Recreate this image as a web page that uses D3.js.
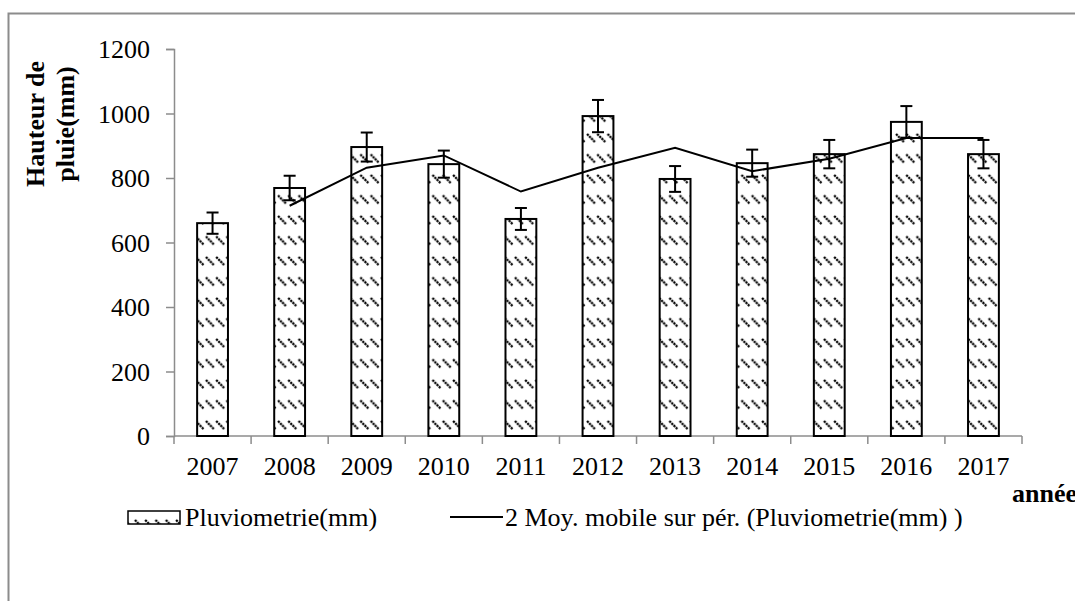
<!DOCTYPE html>
<html>
<head>
<meta charset="utf-8">
<script src="https://cdn.jsdelivr.net/npm/d3@7"></script>
<style>
	body { margin: 0; background: #fff; }
	svg { display: block; }
	svg text { font-family: 'Liberation Serif', 'Times New Roman', serif; }
</style>
</head>
<body>
<div id="chart"><svg width="1075" height="601"></svg></div>
<script>
// data
var years = ['2007', '2008', '2009', '2010', '2011', '2012', '2013', '2014', '2015', '2016', '2017'];
var pluvio = [660, 769, 896, 843, 673, 992, 797, 846, 874, 974, 874];
var errors = [33, 38, 45, 42, 34, 50, 40, 42, 44, 49, 44];
var moyMobile = [null, 714, 832, 870, 758, 832, 894, 821, 860, 924, 924];
var yTicks = [0, 200, 400, 600, 800, 1000, 1200];

var margin = { top: 49, left: 174, bottom: 165, right: 53 };

var svg = d3.select('#chart > svg');
var width = 1075 - margin.left - margin.right;
var height = 601 - margin.top - margin.bottom;

// hatch pattern
var pat = svg.append('defs').append('pattern')
	.attr('id', 'hatch')
	.attr('patternUnits', 'userSpaceOnUse')
	.attr('width', 10.3)
	.attr('height', 20.5);
pat.append('line')
	.attr('x1', 1).attr('y1', 3)
	.attr('x2', 9).attr('y2', 11)
	.attr('stroke', '#000')
	.attr('stroke-width', 2.2)
	.attr('stroke-dasharray', '2.2 0.8');

// outer frame
svg.append('rect')
	.attr('x', 8.5).attr('y', 13.5)
	.attr('width', 1080).attr('height', 600)
	.attr('fill', 'none')
	.attr('stroke', '#8c8c8c')
	.attr('stroke-width', 2);

var group = svg.append('g')
	.attr('transform', 'translate(' + [ margin.left, margin.top ] + ')');

var xScale = d3.scaleBand()
	.domain(years)
	.range([ 0, width ])
	.paddingInner(0.6)
	.paddingOuter(0.3);
var xLin = d3.scaleLinear()
	.domain([ 0, years.length ])
	.range([ 0, width ]);
var yScale = d3.scaleLinear()
	.domain([ 0, 1200 ])
	.range([ height, 0 ]);

// y axis
var yAxis = group.append('g')
	.call(d3.axisLeft(yScale).tickValues(yTicks).tickFormat(d3.format('d')).tickSize(8).tickPadding(16));
yAxis.attr('font-family', null);
yAxis.select('.domain').attr('stroke', '#8c8c8c').attr('stroke-width', 1.5);
yAxis.selectAll('.tick line').attr('stroke', '#8c8c8c').attr('stroke-width', 1.5);
yAxis.selectAll('.tick text')
	.style('font-family', "'Liberation Serif', serif")
	.style('font-size', '26px')
	.attr('dy', '0.34em')
	.attr('fill', '#000');

// x axis: ticks between categories
var xAxis = group.append('g')
	.attr('transform', 'translate(0,' + height + ')');
xAxis.append('line')
	.attr('x1', 0).attr('x2', width)
	.attr('y1', 0).attr('y2', 0)
	.attr('stroke', '#8c8c8c').attr('stroke-width', 1.5);
xAxis.selectAll('.xtick')
	.data(d3.range(years.length + 1))
	.enter().append('line')
	.attr('class', 'xtick')
	.attr('x1', function(d) { return xLin(d) })
	.attr('x2', function(d) { return xLin(d) })
	.attr('y1', 0).attr('y2', 8)
	.attr('stroke', '#8c8c8c').attr('stroke-width', 1.5);
xAxis.selectAll('.xlabel')
	.data(years)
	.enter().append('text')
	.attr('class', 'xlabel')
	.attr('x', function(d) { return xScale(d) + xScale.bandwidth() / 2 })
	.attr('y', 39)
	.attr('text-anchor', 'middle')
	.attr('font-size', 26)
	.text(function(d) { return d });

// bars
group.selectAll('.bar')
	.data(pluvio)
	.enter().append('rect')
	.attr('class', 'bar')
	.attr('x', function(d, i) { return xScale(years[i]) })
	.attr('y', function(d) { return yScale(d) })
	.attr('width', xScale.bandwidth())
	.attr('height', function(d) { return height - yScale(d) })
	.attr('fill', 'url(#hatch)')
	.attr('stroke', '#000')
	.attr('stroke-width', 2);

// moving average
var line = d3.line()
	.defined(function(d) { return d != null })
	.x(function(d, i) { return xScale(years[i]) + xScale.bandwidth() / 2 })
	.y(function(d) { return yScale(d) });
group.append('path')
	.datum(moyMobile)
	.attr('d', line)
	.attr('fill', 'none')
	.attr('stroke', '#000')
	.attr('stroke-width', 2);

// error bars
var eb = group.selectAll('.err')
	.data(pluvio)
	.enter().append('g')
	.attr('class', 'err')
	.attr('transform', function(d, i) { return 'translate(' + (xScale(years[i]) + xScale.bandwidth() / 2) + ',0)' });
eb.append('line')
	.attr('x1', 0).attr('x2', 0)
	.attr('y1', function(d, i) { return yScale(d + errors[i]) })
	.attr('y2', function(d, i) { return yScale(d - errors[i]) })
	.attr('stroke', '#000').attr('stroke-width', 2);
eb.selectAll('.cap')
	.data(function(d, i) { return [ d + errors[i], d - errors[i] ] })
	.enter().append('line')
	.attr('class', 'cap')
	.attr('x1', -6).attr('x2', 6)
	.attr('y1', function(d) { return yScale(d) })
	.attr('y2', function(d) { return yScale(d) })
	.attr('stroke', '#000').attr('stroke-width', 2);

// axis titles
var yTitle = svg.append('text')
	.attr('transform', 'translate(44,124) rotate(-90)')
	.attr('text-anchor', 'middle')
	.attr('font-size', 26)
	.attr('font-weight', 'bold');
yTitle.append('tspan').attr('x', 0).attr('y', 0).text('Hauteur de');
yTitle.append('tspan').attr('x', 0).attr('y', 30).text('pluie(mm)');

svg.append('text')
	.attr('x', 1012)
	.attr('y', 502)
	.attr('font-size', 26)
	.attr('font-weight', 'bold')
	.text('année');

// legend
var legend = svg.append('g').attr('transform', 'translate(0,517)');
legend.append('rect')
	.attr('x', 128).attr('y', -6)
	.attr('width', 52).attr('height', 13)
	.attr('fill', 'url(#hatch)')
	.attr('stroke', '#000').attr('stroke-width', 1.5);
legend.append('text')
	.attr('x', 185).attr('y', 9)
	.attr('font-size', 26)
	.text('Pluviometrie(mm)');
legend.append('line')
	.attr('x1', 450).attr('x2', 503)
	.attr('y1', 0).attr('y2', 0)
	.attr('stroke', '#000').attr('stroke-width', 2);
legend.append('text')
	.attr('x', 505).attr('y', 9)
	.attr('font-size', 26)
	.text('2 Moy. mobile sur pér. (Pluviometrie(mm) )');
</script>
</body>
</html>
